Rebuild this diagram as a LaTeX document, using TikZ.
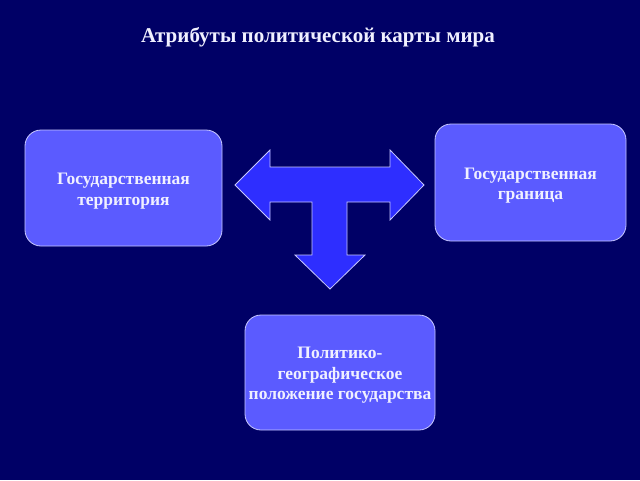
\documentclass[tikz,border=0pt]{standalone}
\usepackage{fontspec}
\setmainfont{Liberation Serif}
\definecolor{slidebg}{HTML}{000066}
\definecolor{boxfill}{HTML}{5B5BFF}
\definecolor{boxline}{HTML}{C8C8FF}
\definecolor{arrowfill}{HTML}{2E2EFF}
\definecolor{txt}{HTML}{F0F0FF}
\begin{document}
\begin{tikzpicture}[
  x=1pt, y=-1pt,
  attrbox/.style={rectangle, rounded corners=16pt, fill=boxfill, draw=boxline, line width=0.8pt},
  attrtext/.style={text=txt, font=\bfseries\fontsize{17.5}{20.5}\selectfont, align=center, inner sep=1pt},
  tshape/.style={fill=arrowfill, draw=boxline, line width=0.8pt, line join=miter}
]

  % Фон
  \fill[slidebg] (0,0) rectangle (640,480);

  % Заголовок
  \node[text=txt, font=\bfseries\fontsize{21}{25}\selectfont] (title) at (318,37)
    {Атрибуты политической карты мира};

  % Блоки
  \node[attrbox, minimum width=197pt, minimum height=116pt] (terr) at (123.5,188) {};
  \node[attrbox, minimum width=191pt, minimum height=117pt] (gran) at (530.5,182.5) {};
  \node[attrbox, minimum width=190pt, minimum height=115pt] (pgp) at (340,372.5) {};

  % Подписи блоков
  \node[attrtext] (terrtext) at ([yshift=-3pt]terr.center) {Государственная\\ территория};
  \node[attrtext] (grantext) at ([yshift=-3pt]gran.center) {Государственная\\ граница};
  \node[attrtext] (pgptext) at ([yshift=-3pt]pgp.center)
    {Политико-\\ географическое\\ положение государства};

  % Стрелка
  \draw[tshape] (235,185) -- (270,150) -- (270,167) -- (390,167) -- (390,150) -- (424,185)
    -- (390,220) -- (390,202) -- (347,202) -- (347,255) -- (365,255) -- (330,289)
    -- (295,255) -- (312,255) -- (312,202) -- (270,202) -- (270,220) -- cycle;

\end{tikzpicture}
\end{document}
